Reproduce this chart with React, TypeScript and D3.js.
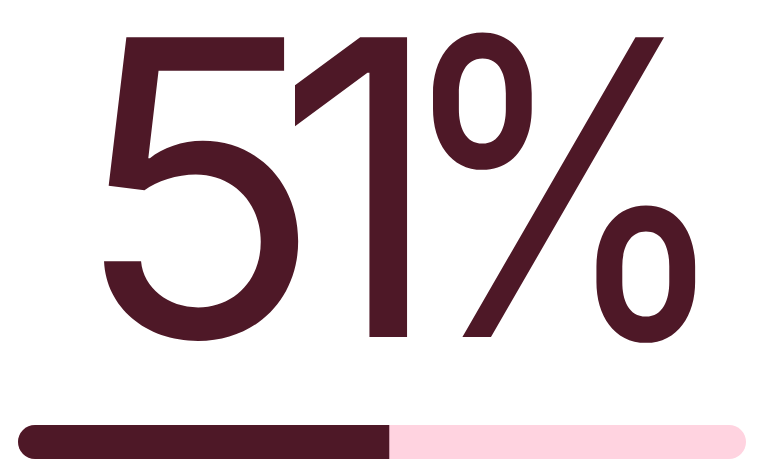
import { useEffect, useRef } from "react";
import * as d3 from "d3";

const values = [51];
const numberLabels = ["51"];
const unitLabels = ["%"];
const domain = [0, 100];

const App = () => {
    const ref = useRef<SVGSVGElement>(null);

    useEffect(() => {
        if (!ref.current) return;
        const svg = d3.select(ref.current);
        svg.selectAll("*").remove();

        const width = 764;
        const height = 460;
        const bar = { left: 18, right: 746, top: 425, h: 34 };
        const baseline = 337;
        const fontSize = 412;
        const color = "#4e1827";

        const x = d3.scaleLinear().domain(domain).range([bar.left, bar.right]);

        // measure glyph ink so the tight kerning of the big label can be matched
        const ctx = document.createElement("canvas").getContext("2d")!;
        ctx.font = `${fontSize}px Inter`;
        const ink = (ch: string) => {
            const m = ctx.measureText(ch);
            return { left: m.actualBoundingBoxLeft, right: m.actualBoundingBoxRight };
        };

        const digitLeft = [98, 295];
        const num = svg
            .append("text")
            .attr("y", baseline)
            .attr("font-family", "Inter, sans-serif")
            .attr("font-size", fontSize)
            .attr("fill", color);
        num.selectAll("tspan")
            .data(numberLabels[0].split(""))
            .join("tspan")
            .attr("x", (d, i) => digitLeft[i] + ink(d).left)
            .text((d) => d);

        // percent sign, narrower than the font's own
        const p = ink(unitLabels[0]);
        const s = 265 / (p.left + p.right);
        svg.append("text")
            .attr("transform", `translate(${432 + s * p.left},${baseline}) scale(${s},1)`)
            .attr("font-family", "Inter, sans-serif")
            .attr("font-size", fontSize)
            .attr("fill", color)
            .text(unitLabels[0]);

        // clip to rounded track
        svg.append("clipPath")
            .attr("id", "track")
            .append("rect")
            .attr("x", x(0))
            .attr("y", bar.top)
            .attr("width", x(100) - x(0))
            .attr("height", bar.h)
            .attr("rx", bar.h / 2);

        const g = svg.append("g").attr("clip-path", "url(#track)");
        g.append("rect")
            .attr("x", x(0))
            .attr("y", bar.top)
            .attr("width", x(100) - x(0))
            .attr("height", bar.h)
            .attr("fill", "#ffd3e0");

        g.selectAll(".fill")
            .data(values)
            .join("rect")
            .attr("class", "fill")
            .attr("x", x(0))
            .attr("y", bar.top)
            .attr("width", (d) => x(d) - x(0))
            .attr("height", bar.h)
            .attr("fill", color);

        svg.attr("width", width).attr("height", height);
    }, []);

    return <svg ref={ref} style={{ display: "block", position: "absolute", left: 0, top: 0 }} />;
};

export default App;
